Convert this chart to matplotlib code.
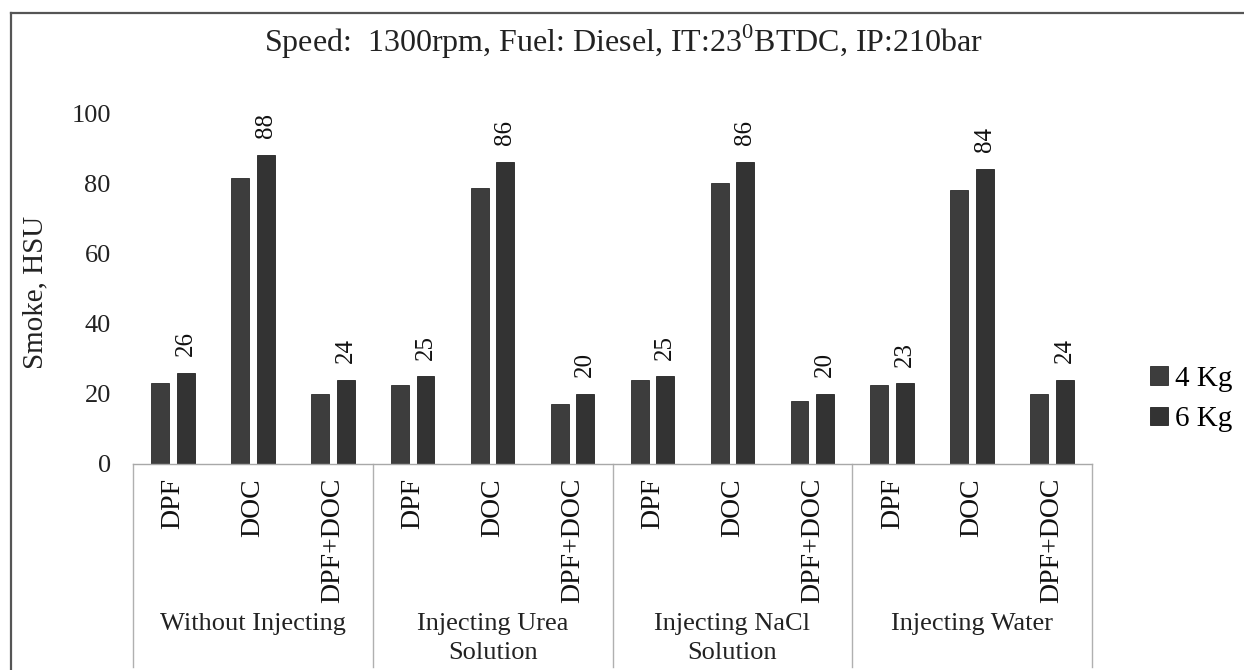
import matplotlib
matplotlib.use('Agg')
import matplotlib.pyplot as plt
import matplotlib.transforms as mtransforms
from matplotlib.lines import Line2D
import numpy as np

# data
groups = ['Without Injecting', 'Injecting Urea\nSolution', 'Injecting NaCl\nSolution', 'Injecting Water']
devices = ['DPF', 'DOC', 'DPF+DOC']
kg4 = [23, 81.5, 20, 22.5, 78.5, 17, 24, 80, 18, 22.5, 78, 20]
kg6 = [26, 88, 24, 25, 86, 20, 25, 86, 20, 23, 84, 24]
series_names = ['4 Kg', '6 Kg']
yticks = [0, 20, 40, 60, 80, 100]

plt.rcParams['font.family'] = ['Liberation Serif', 'DejaVu Serif']
plt.rcParams['mathtext.fontset'] = 'custom'
plt.rcParams['mathtext.rm'] = 'Liberation Serif'

W, H = 1244, 670
fig = plt.figure(figsize=(W / 100, H / 100), dpi=100)

# axes box in pixels
left, right, bottom, top = 133, 1092, 464, 113
ax = fig.add_axes([left / W, 1 - bottom / H, (right - left) / W, (bottom - top) / H])

x = np.arange(len(kg4))
bw = 0.225
off = 0.16
ax.bar(x - off, kg4, bw, color='#3d3d3d', edgecolor='#2a2a2a', linewidth=0.6, label=series_names[0])
ax.bar(x + off, kg6, bw, color='#333333', edgecolor='#222222', linewidth=0.6, label=series_names[1])

# value labels on the 6 Kg bars
for xi, v in zip(x, kg6):
    ax.annotate('%g' % v, (xi + off, v), xytext=(0, 12), textcoords='offset points',
                rotation=90, ha='center', va='bottom', fontsize=18, color='#111111')

ax.set_xlim(-0.5, len(kg4) - 0.5)
ax.set_ylim(0, 100)
ax.set_yticks(yticks)
ax.tick_params(axis='y', length=0, pad=16, labelsize=19, colors='#222222')

ax.set_xticks(x)
ax.set_xticklabels(devices * len(groups), rotation=90, va='top', ha='center')
ax.tick_params(axis='x', length=0, pad=10, labelsize=20, colors='#111111')

for s in ['top', 'right', 'left']:
    ax.spines[s].set_visible(False)
ax.spines['bottom'].set_color('#a8a8a8')
ax.spines['bottom'].set_linewidth(1.0)

# group separators and group labels under the axis
trans = mtransforms.blended_transform_factory(ax.transData, ax.transAxes)
sep_bottom = (bottom - 667) / (bottom - top)
for k in range(len(groups) + 1):
    xs = k * 3 - 0.5
    ax.plot([xs, xs], [0, sep_bottom], color='#b0b0b0', lw=1.0, transform=trans, clip_on=False)
lab_y = (bottom - 613) / (bottom - top)
for k, g in enumerate(groups):
    ax.text(k * 3 + 1, lab_y, g, transform=trans, ha='center', va='top',
            fontsize=19, linespacing=1.42, color='#222222')

# title and y label
fig.text(623 / W, 1 - 42 / H, 'Speed:  1300rpm, Fuel: Diesel, IT:23$^{\\mathrm{0}}$BTDC, IP:210bar',
         ha='center', va='center', fontsize=23, color='#222222')
fig.text(35 / W, 1 - 292 / H, 'Smoke, HSU', rotation=90, ha='center', va='center',
         fontsize=21, color='#222222')

# legend
fig.legend(loc='center left', bbox_to_anchor=(1150 / W, 1 - 399 / H), frameon=False,
           fontsize=21, handlelength=0.62, handleheight=0.62, handletextpad=0.25,
           labelspacing=0.5, borderpad=0, borderaxespad=0)

# outer border (top and left edges visible)
fig.add_artist(Line2D([11 / W, 1], [1 - 13 / H, 1 - 13 / H], transform=fig.transFigure,
                      color='#555555', lw=1.6))
fig.add_artist(Line2D([11 / W, 11 / W], [1 - 13 / H, 0], transform=fig.transFigure,
                      color='#555555', lw=1.6))

fig.savefig('out.png', dpi=100)
